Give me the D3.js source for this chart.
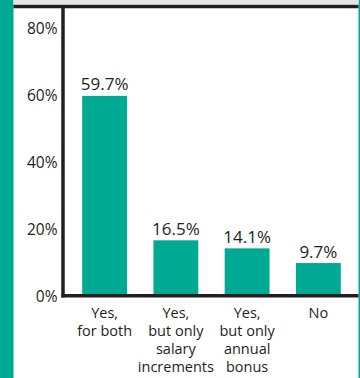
<!DOCTYPE html>
<html>
<head>
<meta charset="utf-8">
<script src="https://cdn.jsdelivr.net/npm/d3@7"></script>
<style>
  html, body { margin: 0; padding: 0; background: #fff; }
  svg { display: block; }
  text { font-family: "Open Sans", "DejaVu Sans", sans-serif; fill: #231f20; }
</style>
</head>
<body>
<svg id="chart" width="360" height="378"></svg>
<script>
// Survey answers and their shares (%)
const categories = ["Yes,|for both", "Yes,|but only|salary|increments", "Yes,|but only|annual|bonus", "No"];
const values = [59.7, 16.5, 14.1, 9.7];
const tickValues = [0, 20, 40, 60, 80];

const W = 360, H = 378;
const teal = "#00a994";
const ink = "#231f20";

const svg = d3.select("#chart");

// side accents
svg.append("rect").attr("x", 0).attr("y", 0).attr("width", 13.5).attr("height", H).attr("fill", teal);
svg.append("rect").attr("x", 358.5).attr("y", 0).attr("width", 1.5).attr("height", H).attr("fill", teal);
svg.append("rect").attr("x", 13.5).attr("y", 0).attr("width", 345).attr("height", 4.5).attr("fill", "#e4e4e4");

const x = d3.scaleBand()
  .domain(categories)
  .range([69, 354])
  .paddingInner(0.37)
  .paddingOuter(0.185);

const y = d3.scaleLinear().domain([0, 80]).range([295.5, 28]);

// bars
svg.append("g").selectAll("rect")
  .data(values)
  .join("rect")
  .attr("x", (d, i) => x(categories[i]))
  .attr("width", x.bandwidth())
  .attr("y", d => y(d))
  .attr("height", d => y(0) - y(d))
  .attr("fill", teal);

// value labels
svg.append("g").selectAll("text")
  .data(values)
  .join("text")
  .attr("x", (d, i) => x(categories[i]) + x.bandwidth() / 2)
  .attr("y", d => y(d) - 5.5)
  .attr("text-anchor", "middle")
  .attr("font-size", 17)
  .text(d => d.toFixed(1) + "%");

// y axis ticks
const yAxis = d3.axisLeft(y)
  .tickValues(tickValues)
  .tickSize(0)
  .tickPadding(0)
  .tickFormat(d => d + "%");
const gy = svg.append("g").attr("transform", "translate(57.5,1)").call(yAxis);
gy.select(".domain").remove();
gy.selectAll("text")
  .attr("font-size", 15.5)
  .attr("fill", ink)
  .style("font-family", "\"Open Sans\", \"DejaVu Sans\", sans-serif");

// frame lines
svg.append("line").attr("x1", 13.5).attr("x2", 358.5).attr("y1", 6.5).attr("y2", 6.5)
  .attr("stroke", ink).attr("stroke-width", 3.5);
svg.append("line").attr("x1", 63).attr("x2", 63).attr("y1", 5).attr("y2", 297.5)
  .attr("stroke", ink).attr("stroke-width", 3.5);
svg.append("line").attr("x1", 61.25).attr("x2", 358.5).attr("y1", 295.8).attr("y2", 295.8)
  .attr("stroke", ink).attr("stroke-width", 3.5);

// category labels
const cat = svg.append("g").selectAll("text")
  .data(categories)
  .join("text")
  .attr("text-anchor", "middle")
  .attr("font-size", 14.5)
  .attr("transform", d => `translate(${x(d) + x.bandwidth() / 2},0)`);
cat.selectAll("tspan")
  .data(d => d.split("|"))
  .join("tspan")
  .attr("x", 0)
  .attr("y", (d, i) => 318 + i * 18)
  .text(d => d);
</script>
</body>
</html>
